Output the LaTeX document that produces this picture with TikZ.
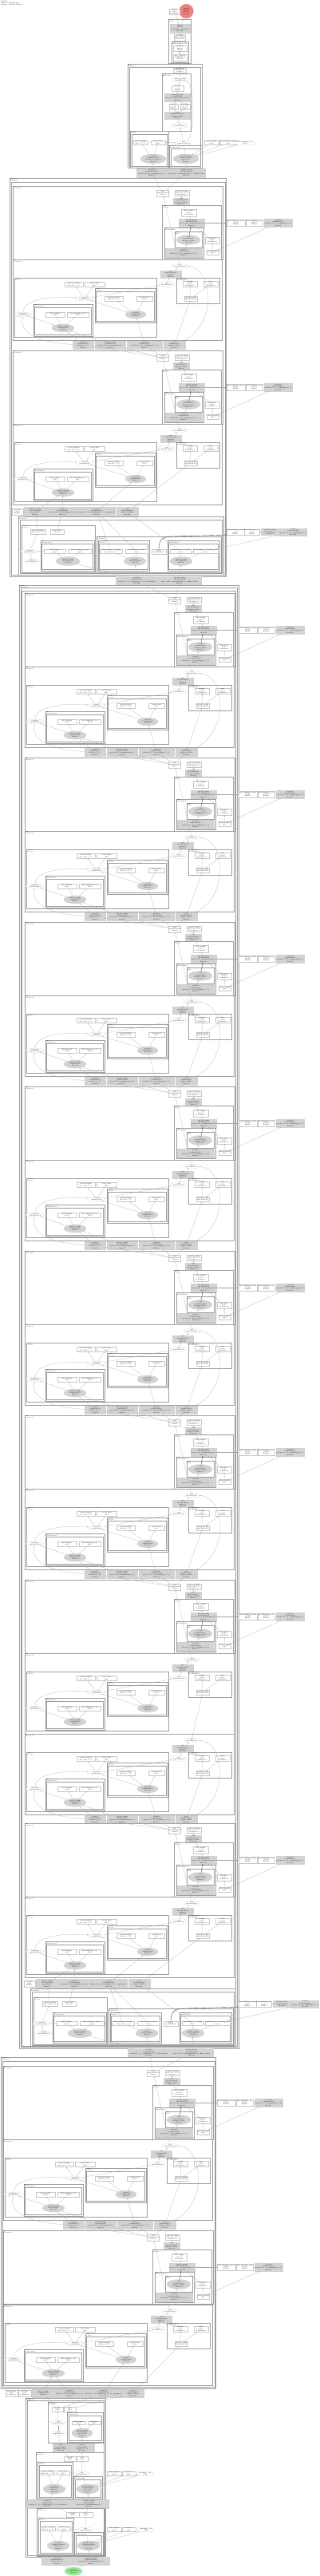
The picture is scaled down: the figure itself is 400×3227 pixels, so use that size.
\documentclass[tikz,border=0pt]{standalone}
\usepackage{tikz}
\usetikzlibrary{positioning, arrows.meta, shapes.geometric}

\definecolor{opgray}{HTML}{D3D3D3}
\definecolor{outred}{HTML}{F08080}
\definecolor{ingreen}{HTML}{90EE90}

% conv half of a bottleneck block (name, right edge, top)
\newcommand{\convunit}[3]{%
\begin{scope}[shift={({#2},{#3})}]
\draw[clus] (-263,0) rectangle (0,92);
\node[clab] (#1-lab) at (-263,0) {#1\\ Bottleneck};
\node[wbox, minimum width=15, minimum height=8] (#1-in) at (-75,9) {add\\ 1x256x56x56\\ Tensor};
\node[wbox, minimum width=18, minimum height=7] (#1-w) at (-51,9) {conv3.weight\\ (256, 64, 1, 1)\\ Parameter};
\node[gbox, minimum width=20, minimum height=9] (#1-op) at (-52,19.5) {relu\\ 1x256x56x56\\ inplace=True\\ float32};
\draw[clus] (-76,24) rectangle (-2,92);
\node[clab] (#1-lab2) at (-76,24) {conv3\\ Conv2d};
\node[wbox, minimum width=19, minimum height=9] (#1-p) at (-42.5,33.5) {bn3.weight\\ (256,)\\ Parameter};
\node[gbox, minimum width=32, minimum height=10] (#1-bn) at (-39,46) {batch\_norm\\ 1x256x56x56\\ eps=1e-05, momentum=0.1\\ float32};
\draw[clus] (-73,52) rectangle (-24,90);
\node[clab] (#1-lab3) at (-73,52) {bn2\\ BatchNorm2d};
\draw[clus] (-60,57) rectangle (-26,77);
\node[clab] (#1-lab4) at (-60,57) {relu\\ ReLU};
\node[gov, minimum width=30, minimum height=12] (#1-fn) at (-43,67.5) {relu\\ 1x64x56x56\\ inplace=True\\ float32};
\node[gbox, minimum width=46, minimum height=11] (#1-cv) at (-49,83.5) {conv2d\\ 1x64x56x56\\ stride=(1, 1), padding=(1, 1)\\ float32};
\node[wbox, minimum width=18, minimum height=8] (#1-a) at (-13,68) {bn2.bias\\ (64,)\\ Parameter};
\node[wbox, minimum width=15, minimum height=6] (#1-b) at (-12.5,83) {conv2.weight\\ (64,)};
\node[wbox, minimum width=23, minimum height=8] (#1-x1) at (16.5,46) {bn3.running\_mean\\ (256,)\\ Buffer};
\node[wbox, minimum width=21, minimum height=8] (#1-x2) at (39.5,46) {bn3.running\_var\\ (256,)\\ Buffer};
\node[gbox, minimum width=35, minimum height=10] (#1-x3) at (69.5,46) {conv2d\\ 1x64x56x56\\ stride=(1, 1), padding=(0, 0)\\ float32};
\draw[connect] (#1-cv) -- (#1-fn);
\draw[connect, draw=black!75, line width=0.35pt] (#1-fn) -- (#1-bn);
\draw[connect] (#1-bn) -- (#1-p);
\draw[connect] (#1-p) -- (#1-op);
\draw[connect] (#1-op) -- (#1-w);
\draw[connect] (#1-a) -- (#1-bn);
\draw[connect] (#1-b) -- (#1-a);
\draw[connect] (#1-x1) -- (#1-bn);
\draw[connect] (#1-x3) -- (#1-b);
\end{scope}}

% merge half of a bottleneck block (name, right edge, top)
\newcommand{\mergeunit}[3]{%
\begin{scope}[shift={({#2},{#3})}]
\draw[clus] (-263,0) rectangle (-1,101);
\node[clab] (#1-lab) at (-263,0) {#1\\ Bottleneck};
\node[wov, minimum width=20, minimum height=6] (#1-o1) at (-54,8) {add\\ 1x256x56x56};
\node[gbox, minimum width=26, minimum height=9] (#1-op) at (-65,18.5) {add\\ 1x256x56x56\\ alpha=1\\ float32};
\node[wov, minimum width=19, minimum height=7] (#1-o2) at (-70,31) {relu\\ 1x256x56x56};
\draw[clus] (-58,23) rectangle (-4,55);
\node[clab] (#1-lab2) at (-58,23) {downsample.1\\ BatchNorm2d};
\node[wbox, minimum width=18, minimum height=7] (#1-r1) at (-41,30.5) {weight\\ (256,)\\ Parameter};
\node[wbox, minimum width=18, minimum height=7] (#1-r2) at (-15,30.5) {bias\\ (256,)\\ Parameter};
\node[wbox, minimum width=16, minimum height=6] (#1-r3) at (-40,49) {batch\_norm\\ 1x256x56x56};
\draw[clus] (-261,23) rectangle (-83,97);
\node[clab] (#1-lab3) at (-261,23) {conv1\\ Conv2d};
\node[wbox, minimum width=23, minimum height=6] (#1-l1) at (-186.5,31.5) {conv1.weight\\ (64, 256, 1, 1)};
\node[wbox, minimum width=25, minimum height=6] (#1-l2) at (-160.5,31.5) {conv1.bias\\ (64,)};
\node[wov, minimum width=22, minimum height=6] (#1-lo) at (-173,49) {conv2d\\ 1x64x56x56};
\node[wov, minimum width=22, minimum height=6] (#1-lf) at (-250,69) {identity\\ 1x256x56x56};
\draw[clus] (-237,56) rectangle (-163,96);
\draw[clus] (-235.5,60) rectangle (-164.5,94.5);
\node[clab] (#1-lab4) at (-237,56) {bn1\\ BatchNorm2d};
\node[wbox, minimum width=24, minimum height=6] (#1-a1) at (-210,69) {bn1.weight\\ (64,)};
\node[wbox, minimum width=27, minimum height=6] (#1-a2) at (-181.5,69) {bn1.running\_var\\ (64,)};
\node[gov, minimum width=28, minimum height=10] (#1-ag) at (-200,86) {batch\_norm\\ 1x64x56x56\\ float32};
\draw[clus] (-160,36) rectangle (-84,79);
\draw[clus] (-158.5,40) rectangle (-85.5,77.5);
\node[clab] (#1-lab5) at (-160,36) {conv2\\ Conv2d};
\node[wbox, minimum width=23, minimum height=6] (#1-b1) at (-136.5,49) {conv2.weight\\ (64, 64, 3, 3)};
\node[wbox, minimum width=20, minimum height=6] (#1-b2) at (-98,49) {conv2.bias\\ (64,)};
\node[gov, minimum width=26, minimum height=10] (#1-bg) at (-109,69) {conv2d\\ 1x64x56x56\\ float32};
\draw[connect] (#1-op) -- (#1-o1);
\draw[connect] (#1-o2) -- (#1-op);
\draw[connect] (#1-r1) -- (#1-op);
\draw[connect] (#1-r3) -- (#1-r1);
\draw[connect] (#1-r3) -- (#1-r2);
\draw[connect] (#1-lo) -- (#1-l1);
\draw[connect] (#1-lo) -- (#1-l2);
\draw[connect] (#1-lo) -- (#1-o2);
\draw[connect] (#1-ag) -- (#1-a1);
\draw[connect] (#1-ag) -- (#1-a2);
\draw[connect] (#1-bg) -- (#1-b1);
\draw[connect] (#1-bg) -- (#1-b2);
\draw[connect] (#1-bg) -- (#1-lo);
\draw[connect] (#1-ag) -- (#1-lf);
\draw[connect] (#1-lf) .. controls (-250,50) and (-215,45) .. (#1-lo);
\end{scope}}

% row of ops under a merge half (name, merge name, right edge, top)
\newcommand{\rowunit}[4]{%
\begin{scope}[shift={({#3},{#4})}]
\node[gbox, minimum width=26, minimum height=10] (#1-s1) at (-175,5) {conv2d\\ 1x64x56x56\\ stride=(1, 1)\\ float32};
\node[gbox, minimum width=38, minimum height=10] (#1-s2) at (-141,5) {batch\_norm\\ 1x64x56x56\\ eps=1e-05, momentum=0.1\\ float32};
\node[gbox, minimum width=44, minimum height=10] (#1-s3) at (-98,5) {conv2d\\ 1x64x56x56\\ stride=(1, 1), padding=(1, 1)\\ float32};
\node[gbox, minimum width=27, minimum height=10] (#1-s4) at (-60.5,5) {relu\\ 1x64x56x56\\ inplace=True\\ float32};
\draw[connect] (#1-s1) -- (#2-ag);
\draw[connect] (#1-s1) .. controls (-240,2) and (-255,-15) .. (#2-lf);
\draw[connect] (#1-s2) -- (#2-ag);
\draw[connect] (#1-s3) -- (#2-bg);
\draw[connect] (#1-s4) -- (#2-r3);
\draw[connect] (#1-s4) .. controls (-6,-20) and (-12,-92) .. (#2-o1);
\end{scope}}

% last part of a stage with the downsample path (name, right edge, top)
\newcommand{\downunit}[3]{%
\begin{scope}[shift={({#2},{#3})}]
\node[wbox, minimum width=14, minimum height=8] (#1-q0) at (-257,-6) {fc.bias\\ (64,)\\ Buffer};
\node[gbox, minimum width=28, minimum height=12] (#1-q1) at (-235,-6) {batch\_norm\\ 1x512x28x28\\ eps=1e-05\\ float32};
\node[gbox, minimum width=38, minimum height=12] (#1-q2) at (-201,-6) {conv2d\\ 1x512x28x28\\ stride=(2, 2), padding=(0, 0)\\ float32};
\node[gbox, minimum width=46, minimum height=12] (#1-q3) at (-158,-6) {conv2d\\ 1x128x28x28\\ stride=(1, 1), padding=(1, 1), groups=1\\ float32};
\node[gbox, minimum width=27, minimum height=12] (#1-q4) at (-119.5,-6) {relu\\ 1x128x28x28\\ inplace=True\\ float32};
\draw[clus] (-256,0) rectangle (1,73);
\draw[clus] (-254.3,4.5) rectangle (-0.7,71.5);
\node[clab] (#1-lab) at (-256,0) {#1\\ Bottleneck};
\draw[clus] (-252,11) rectangle (-160,70);
\node[clab] (#1-lab2) at (-252,11) {conv1\\ Conv2d};
\node[wbox, minimum width=19, minimum height=6] (#1-c1) at (-231.5,19) {conv1.weight\\ (128, 256, 1, 1)};
\node[wbox, minimum width=17, minimum height=6] (#1-c2) at (-207.5,19) {conv1.bias\\ (128,)};
\node[wov, minimum width=18, minimum height=6] (#1-c3) at (-242,44) {conv2d\\ 1x128x56x56};
\node[wov, minimum width=18, minimum height=5] (#1-c4) at (-239,56) {input\\ 1x256x56x56};
\draw[clus] (-228,30) rectangle (-161,68);
\draw[clus] (-226.5,34) rectangle (-162.5,66.5);
\node[clab] (#1-lab3) at (-228,30) {bn1\\ BatchNorm2d};
\node[wbox, minimum width=27, minimum height=5] (#1-c5) at (-210.5,43.5) {bn1.weight\\ (128,)};
\node[wbox, minimum width=30, minimum height=5] (#1-c6) at (-179,43.5) {bn1.running\_mean\\ (128,)};
\node[gov, minimum width=30, minimum height=11] (#1-cg) at (-194,56) {batch\_norm\\ 1x128x56x56\\ float32};
\draw[clus] (-158,25) rectangle (-2,70);
\node[clab] (#1-lab4) at (-158,25) {downsample\\ Sequential};
\draw[clus] (-156,30) rectangle (-92,68);
\draw[clus] (-154.5,34) rectangle (-93.5,66.5);
\node[clab] (#1-lab5) at (-156,30) {downsample.0\\ Conv2d};
\node[wbox, minimum width=28, minimum height=5] (#1-d1) at (-140,43.5) {downsample.0.weight\\ (512, 256, 1, 1)};
\node[wbox, minimum width=28, minimum height=5] (#1-d2) at (-108,43.5) {downsample.0.bias\\ (512,)};
\node[gov, minimum width=28, minimum height=11] (#1-dg) at (-110,56) {conv2d\\ 1x512x28x28\\ float32};
\node[wbox, minimum width=18, minimum height=6] (#1-d0) at (-80,44) {input\\ 1x256x56x56};
\draw[clus] (-69,30) rectangle (-4,68);
\draw[clus] (-67.5,34) rectangle (-5.5,66.5);
\node[clab] (#1-lab6) at (-69,30) {downsample.1\\ BatchNorm2d};
\node[wbox, minimum width=27, minimum height=5] (#1-e1) at (-52.5,43.5) {downsample.1.weight\\ (512,)};
\node[wbox, minimum width=29, minimum height=5] (#1-e2) at (-21.5,43.5) {downsample.1.running\_var\\ (512,)};
\node[gov, minimum width=28, minimum height=11] (#1-eg) at (-52,56) {batch\_norm\\ 1x512x28x28\\ float32};
\node[wbox, minimum width=20, minimum height=7] (#1-x1) at (16,19.5) {bn2.running\_mean\\ (128,)\\ Buffer};
\node[wbox, minimum width=19, minimum height=7] (#1-x2) at (36.5,19.5) {bn2.running\_var\\ (128,)\\ Buffer};
\node[gbox, minimum width=23, minimum height=8] (#1-x3) at (59.5,19.5) {batch\_norm\\ 1x128x28x28\\ float32};
\node[gbox, minimum width=31, minimum height=8] (#1-x4) at (88.5,19.5) {conv2d\\ 1x128x28x28\\ stride=(2, 2), padding=(1, 1)\\ float32};
\node[gbox, minimum width=53, minimum height=11] (#1-z1) at (-107.5,80.5) {conv2d\\ 1x128x56x56\\ stride=(1, 1), padding=(0, 0), bias=False\\ float32};
\node[gbox, minimum width=54, minimum height=11] (#1-z2) at (-54,80.5) {batch\_norm\\ 1x128x56x56\\ eps=1e-05, momentum=0.1, affine=True\\ float32};
\draw[connect] (#1-cg) -- (#1-c5);
\draw[connect] (#1-cg) -- (#1-c6);
\draw[connect] (#1-dg) -- (#1-d1);
\draw[connect] (#1-dg) -- (#1-d2);
\draw[connect] (#1-eg) -- (#1-e1);
\draw[connect] (#1-eg) -- (#1-e2);
\draw[connect] (#1-c4) -- (#1-c3);
\draw[connect] (#1-c3) -- (#1-c1);
\draw[connect] (#1-c5) -- (#1-c3);
\draw[connect] (#1-c1) -- (#1-q1);
\draw[connect] (#1-c2) -- (#1-q2);
\draw[connect] (#1-d1) -- (#1-q3);
\draw[connect] (#1-d2) -- (#1-q3);
\draw[connect] (#1-e1) -- (#1-q4);
\draw[connect, draw=black!75, line width=0.4pt] (#1-d0) .. controls (-80,28) and (-74,25) .. (-62,25) -- (#1-x1.south west);
\draw[connect] (#1-x4) -- (#1-e2);
\draw[connect] (#1-x3) -- (#1-x2);
\draw[connect] (#1-z1) -- (#1-cg);
\draw[connect] (#1-z1) -- (#1-dg);
\draw[connect] (#1-z2) -- (#1-eg);
\end{scope}}

\begin{document}
\begin{tikzpicture}[x=1pt,y=-1pt]
\tikzstyle{every node}=[font=\fontsize{1.9}{2.3}\selectfont]
\tikzstyle{clus}=[draw=black!38, line width=0.3pt]
\tikzstyle{clab}=[anchor=north west, inner sep=0.4pt, align=left, font=\fontsize{1.6}{1.9}\selectfont]
\tikzstyle{wbox}=[rectangle, draw=black!22, line width=0.15pt, fill=white, inner sep=0.2pt, align=center]
\tikzstyle{gbox}=[rectangle, draw=black!18, line width=0.15pt, fill=opgray, inner sep=0.2pt, align=center]
\tikzstyle{wov}=[ellipse, draw=black!22, line width=0.15pt, fill=white, inner sep=0pt, align=center]
\tikzstyle{gov}=[ellipse, draw=black!22, line width=0.15pt, fill=opgray, inner sep=0pt, align=center]
\tikzstyle{connect}=[-{Stealth[length=1.4pt,width=1.1pt]}, line width=0.18pt, draw=black!35]
\fill[white] (0,0) rectangle (400,3227);
\useasboundingbox (0,0) rectangle (400,3227);

% 1. Head
%%%%%%%%%%
\node[anchor=north west, inner sep=0.4pt, align=left] (title) at (0.5,0.3) {ResNet\\ input: 1x3x224x224\\ output: 1x1000, float32};
\node[circle, minimum size=18, draw=black!25, line width=0.2pt, fill=outred, inner sep=0pt, align=center] (out) at (233.5,14) {output\\ 1x1000\\ Tensor\\ float32};
\node[wbox, minimum width=13, minimum height=6] (outp) at (218.5,14.5) {fc.bias\\ (1000,)\\ Parameter};

\draw[clus] (211,24) rectangle (239,79);
\node[clab] (fc-lab) at (211,24) {fc\\ Linear};
\node[gbox, minimum width=25, minimum height=11] (fcop) at (225.5,35.5) {linear\\ 1x1000\\ in=2048, out=1000\\ float32};
\node[wbox, minimum width=12, minimum height=8] (fcw) at (225,47) {fc.weight\\ (1000, 2048)\\ Parameter};
\draw[clus] (215,52) rectangle (236,78);
\node[clab] (pool-lab) at (215,52) {avgpool\\ AdaptiveAvgPool2d};
\node[wbox, minimum width=17, minimum height=7] (flat) at (225.5,60.5) {flatten\\ 1x2048\\ Tensor};
\node[wbox, minimum width=17, minimum height=8] (pool) at (225.5,72) {avg\_pool2d\\ 1x2048x1x1\\ Tensor};

% 2. Stem
%%%%%%%%%%
\draw[clus] (160,80) rectangle (253,210);
\draw[clus] (161.7,84) rectangle (251.3,208.5);
\node[clab] (stem-lab) at (160,80) {stem\\ Sequential};
\node[wbox, minimum width=16, minimum height=6] (bt) at (225,88) {maxpool\\ 1x64x56x56\\ Tensor};
\draw[clus] (203,92) rectangle (239,164);
\node[clab] (bsub-lab) at (203,92) {maxpool\\ MaxPool2d};
\node[wov, minimum width=22, minimum height=6] (bo1) at (226,100) {max\_pool2d\\ 1x64x56x56};
\node[wbox, minimum width=15, minimum height=7] (bp) at (222.5,110.5) {kernel\\ (3, 3)\\ Buffer};
\node[gbox, minimum width=32, minimum height=10] (bg1) at (222,122) {max\_pool2d\\ 1x64x56x56\\ kernel=3, stride=2, pad=1\\ float32};
\node[wbox, minimum width=11, minimum height=7] (bp2) at (217.5,133.5) {stride\\ (2, 2)\\ Buffer};
\node[wbox, minimum width=12, minimum height=7] (bp3) at (232,133.5) {padding\\ (1, 1)\\ Buffer};
\node[gbox, minimum width=32, minimum height=9] (bg2) at (222,144.5) {relu\\ 1x64x112x112\\ inplace=True\\ float32};
\node[wov, minimum width=22, minimum height=7] (bo2) at (225,157) {relu\\ 1x64x112x112};
\node[wov, minimum width=20, minimum height=6] (bo3) at (230,179) {bn1\\ 1x64x112x112};
\draw[clus] (163,164) rectangle (211,210);
\draw[clus] (164.7,168) rectangle (209.3,208.5);
\node[clab] (bl-lab) at (163,164) {conv1\\ Conv2d};
\node[wbox, minimum width=18, minimum height=5] (bl1) at (176,178.5) {conv1.weight\\ (64, 3, 7, 7)};
\node[wbox, minimum width=18, minimum height=5] (bl2) at (198,178.5) {conv1.bias\\ (64,)};
\node[gov, minimum width=32, minimum height=12] (blg) at (192,199) {conv2d\\ 1x64x112x112\\ stride=2, pad=3\\ float32};
\draw[clus] (212,182) rectangle (253,210);
\draw[clus] (213.7,186) rectangle (251.3,208.5);
\node[clab] (br-lab) at (212,182) {bn1\\ BatchNorm2d};
\node[gov, minimum width=32, minimum height=12] (brg) at (233,199) {batch\_norm\\ 1x64x112x112\\ eps=1e-05\\ float32};
\node[wbox, minimum width=18, minimum height=5] (bx1) at (265,178.5) {bn1.weight\\ (64,)};
\node[wbox, minimum width=20, minimum height=5] (bx2) at (286,178.5) {bn1.running\_mean\\ (64,)};
\node[wov, minimum width=20, minimum height=5] (bx3) at (307,179) {bn1.running\_var\\ (64,)};
\node[gbox, minimum width=38, minimum height=11] (brow1) at (190,216.5) {conv2d\\ 1x64x112x112\\ stride=(2, 2), padding=(3, 3)\\ float32};
\node[gbox, minimum width=47, minimum height=11] (brow2) at (233.5,216.5) {batch\_norm\\ 1x64x112x112\\ eps=1e-05, momentum=0.1, affine=True\\ float32};

% 3. Stages
%%%%%%%%%%%
\draw[clus] (12,223) rectangle (283.5,722);
\draw[clus] (13.7,228) rectangle (281.8,720.5);
\node[clab] (c-lab) at (12,223) {layer1\\ Sequential};
\convunit{ca1}{279}{233}
\mergeunit{cb1}{279}{325}
\rowunit{cr1}{cb1}{279}{427}
\convunit{ca2}{279}{439}
\mergeunit{cb2}{279}{531}
\downunit{cc}{279}{647}

\draw[clus] (24,733) rectangle (299,2566);
\draw[clus] (25.7,736.5) rectangle (297.3,2564.5);
\draw[clus] (27.4,740) rectangle (295.6,2563);
\node[clab] (d-lab) at (24,733) {layer2\\ Sequential};
\foreach \k/\y in {1/743,2/949,3/1155,4/1361,5/1567,6/1773} {
  \convunit{da\k}{294}{\y}
  \mergeunit{db\k}{294}{\y+92}
  \rowunit{dr\k}{db\k}{294}{\y+194}
}
\convunit{da7}{294}{1979}
\mergeunit{db7}{294}{2071}
\mergeunit{dx}{294}{2172}
\rowunit{dr7}{dx}{294}{2274}
\convunit{da8}{294}{2284}
\mergeunit{db8}{294}{2376}
\downunit{dd}{294}{2491}

\draw[clus] (1,2577) rectangle (270.5,2992);
\draw[clus] (2.7,2582.5) rectangle (268.8,2990.5);
\node[clab] (e-lab) at (1,2577) {layer3\\ Sequential};
\convunit{ea1}{267}{2588}
\mergeunit{eb1}{267}{2680}
\rowunit{er1}{eb1}{267}{2782}
\convunit{ea2}{267}{2794}
\mergeunit{eb2}{267}{2887}

\node[wbox, minimum width=15, minimum height=8] (erw1) at (14.5,2998) {bn.weight\\ (64,)\\ Parameter};
\node[wbox, minimum width=16, minimum height=8] (erw2) at (31,2998) {bn.bias\\ (64,)\\ Parameter};
\node[gbox, minimum width=28, minimum height=10] (erg1) at (54,2998) {batch\_norm\\ 1x64x56x56\\ float32};
\node[gbox, minimum width=38, minimum height=10] (erg2) at (87,2998) {conv2d\\ 1x64x56x56\\ stride=(1, 1), padding=(0, 0)\\ float32};
\node[gbox, minimum width=45, minimum height=10] (erg3) at (129.5,2998) {conv2d\\ 1x64x56x56\\ stride=(1, 1), padding=(1, 1), groups=1\\ float32};
\node[gbox, minimum width=27, minimum height=10] (erg4) at (166.5,2998) {relu\\ 1x64x56x56\\ inplace=True\\ float32};

% 4. Input side
%%%%%%%%%%%%%%%
\draw[clus] (32,3004) rectangle (132,3203);
\draw[clus] (33.7,3007.5) rectangle (130.3,3201.5);
\node[clab] (f-lab) at (32,3004) {layer4\\ Sequential};
\draw[clus] (60,3009) rectangle (130,3060);
\node[clab] (f1-lab) at (60,3009) {layer4.2\\ Bottleneck};
\node[wbox, minimum width=14, minimum height=6] (f1p1) at (72,3018) {weight\\ (64,)};
\node[wbox, minimum width=15, minimum height=6] (f1p2) at (87.5,3018) {bias\\ (64,)};
\node[wov, minimum width=20, minimum height=6] (f1o1) at (73,3035) {relu\\ 1x64x56x56};
\node[wov, minimum width=20, minimum height=6] (f1o2) at (73,3048) {add\\ 1x64x56x56};
\draw[clus] (84,3022) rectangle (129,3059);
\draw[clus] (85.7,3026) rectangle (127.5,3057.5);
\node[clab] (f1s-lab) at (84,3022) {bn2\\ BatchNorm2d};
\node[wbox, minimum width=17, minimum height=4.5] (f1a) at (98.5,3035) {bn2.weight\\ (64,)};
\node[wbox, minimum width=16, minimum height=4.5] (f1b) at (118,3035) {bn2.bias\\ (64,)};
\node[gov, minimum width=26, minimum height=12] (f1g) at (103,3048) {batch\_norm\\ 1x64x56x56\\ eps=1e-05\\ float32};
\node[gbox, minimum width=20, minimum height=11] (fr1) at (76,3066.5) {relu\\ 1x64x56x56\\ inplace=True\\ float32};
\node[gbox, minimum width=31, minimum height=11] (fr2) at (102.5,3066.5) {conv2d\\ 1x64x56x56\\ stride=(1, 1)\\ float32};

\draw[clus] (45,3072) rectangle (130,3131);
\node[clab] (f2-lab) at (45,3072) {layer4.1\\ Bottleneck};
\node[wbox, minimum width=15, minimum height=6] (f2p1) at (87.5,3080) {weight\\ (64,)};
\node[wbox, minimum width=14, minimum height=6] (f2p2) at (103,3080) {bias\\ (64,)};
\node[wov, minimum width=20, minimum height=6] (f2o) at (102,3099) {relu\\ 1x64x56x56};
\draw[clus] (47,3084) rectangle (91,3130);
\draw[clus] (48.7,3088) rectangle (89.3,3128.5);
\node[clab] (f2l-lab) at (47,3084) {conv1\\ Conv2d};
\node[wbox, minimum width=17, minimum height=5] (f2a) at (59.5,3097.5) {conv1.weight\\ (64, 64, 1, 1)};
\node[wbox, minimum width=16, minimum height=5] (f2b) at (79,3097.5) {conv1.bias\\ (64,)};
\node[gov, minimum width=28, minimum height=12] (f2lg) at (68,3118) {conv2d\\ 1x64x56x56\\ stride=1\\ float32};
\draw[clus] (92,3102) rectangle (128,3130);
\draw[clus] (93.7,3106) rectangle (126.3,3128.5);
\node[clab] (f2r-lab) at (92,3102) {bn1\\ BatchNorm2d};
\node[gov, minimum width=28, minimum height=12] (f2rg) at (110,3118) {batch\_norm\\ 1x64x56x56\\ eps=1e-05\\ float32};
\node[wbox, minimum width=18, minimum height=5] (f2x1) at (143,3098.5) {bn1.weight\\ (64,)};
\node[wbox, minimum width=17, minimum height=5] (f2x2) at (161.5,3098.5) {bn1.bias\\ (64,)};
\node[wov, minimum width=20, minimum height=5] (f2x3) at (182,3099) {running\_var\\ (64,)};
\node[gbox, minimum width=53, minimum height=11] (fr3) at (59.5,3136.5) {conv2d\\ 1x64x56x56\\ stride=(1, 1), padding=(0, 0), bias=False\\ float32};
\node[gbox, minimum width=49, minimum height=11] (fr4) at (111.5,3136.5) {batch\_norm\\ 1x64x56x56\\ eps=1e-05, momentum=0.1\\ float32};

\draw[clus] (46,3142) rectangle (131,3202);
\node[clab] (f3-lab) at (46,3142) {layer4.0\\ Bottleneck};
\node[wbox, minimum width=16, minimum height=6] (f3p1) at (91,3150) {weight\\ (64,)};
\node[wbox, minimum width=17, minimum height=6] (f3p2) at (107.5,3150) {bias\\ (64,)};
\node[wov, minimum width=20, minimum height=6] (f3o) at (107,3169) {relu\\ 1x64x56x56};
\draw[clus] (48,3154) rectangle (92,3200);
\draw[clus] (49.7,3158) rectangle (90.3,3198.5);
\node[clab] (f3l-lab) at (48,3154) {conv1\\ Conv2d};
\node[wbox, minimum width=17, minimum height=5] (f3a) at (60.5,3167.5) {conv1.weight\\ (64, 3, 1, 1)};
\node[wbox, minimum width=16, minimum height=5] (f3b) at (80,3167.5) {conv1.bias\\ (64,)};
\node[gov, minimum width=28, minimum height=12] (f3lg) at (73,3189) {conv2d\\ 1x64x224x224\\ stride=1\\ float32};
\draw[clus] (93,3172) rectangle (129,3200);
\draw[clus] (94.7,3176) rectangle (127.3,3198.5);
\node[clab] (f3r-lab) at (93,3172) {bn1\\ BatchNorm2d};
\node[gov, minimum width=28, minimum height=12] (f3rg) at (111,3189) {batch\_norm\\ 1x64x224x224\\ eps=1e-05\\ float32};
\node[wbox, minimum width=18, minimum height=5] (f3x1) at (143,3168.5) {bn1.weight\\ (64,)};
\node[wbox, minimum width=17, minimum height=5] (f3x2) at (161.5,3168.5) {bn1.bias\\ (64,)};
\node[wov, minimum width=20, minimum height=5] (f3x3) at (183,3169) {running\_var\\ (64,)};
\node[gbox, minimum width=38, minimum height=10] (fr5) at (71,3208) {conv2d\\ 1x64x224x224\\ stride=(1, 1)\\ float32};
\node[gbox, minimum width=46, minimum height=10] (fr6) at (114,3208) {batch\_norm\\ 1x64x224x224\\ eps=1e-05, momentum=0.1\\ float32};
\node[ellipse, minimum width=22, minimum height=10, draw=black!25, line width=0.2pt, fill=ingreen, inner sep=0pt, align=center] (inp) at (92,3221) {input\\ 1x3x224x224\\ float32};

% 5. Arrows
%%%%%%%%%%%
\path (fcop) edge [connect] (out)
      (outp) edge [connect] (fcop)
      (fcw)  edge [connect] (fcop)
      (flat) edge [connect] (fcw)
      (pool) edge [connect] (flat)
      (bt)   edge [connect] (pool)
      (bo1)  edge [connect] (bt)
      (bp)   edge [connect] (bo1)
      (bg1)  edge [connect] (bp)
      (bp2)  edge [connect] (bg1)
      (bp3)  edge [connect] (bg1)
      (bg2)  edge [connect] (bp2)
      (bg2)  edge [connect] (bp3)
      (bo2)  edge [connect] (bg2)
      (bl2)  edge [connect] (bo3)
      (brg)  edge [connect] (bo3)
      (blg)  edge [connect] (bl1)
      (blg)  edge [connect] (bl2)
      (bx1)  edge [connect] (brg)
      (bx2)  edge [connect] (brg)
      (bx3)  edge [connect] (brg)
      (brow1) edge [connect] (blg)
      (brow2) edge [connect] (brg);
\draw[connect] (bo3) .. controls (245,170) and (244,105) .. (bo1);
\draw[connect] (bo3) -- (bo2);
\foreach \s in {brow1,brow2} {\draw[connect] (ca1-in) -- (\s);}
\foreach \a/\b in {ca1/cb1,ca2/cb2,ea1/eb1,ea2/eb2,da1/db1,da2/db2,da3/db3,da4/db4,da5/db5,da6/db6,da7/db7,da8/db8} {
  \draw[connect] (\b-o1) -- (\a-in);
}
\draw[connect] (dx-o1) -- (db7-r3);
\foreach \a/\r in {ca2/cr1,ea2/er1,da2/dr1,da3/dr2,da4/dr3,da5/dr4,da6/dr5,da7/dr6,da8/dr7} {
  \foreach \s in {s1,s2,s3,s4} {\draw[connect] (\a-in) -- (\r-\s);}
}
\foreach \u/\b in {cc/cb2,dd/db8} {
  \draw[connect] (\u-q1) -- (\b-ag);
  \draw[connect] (\u-q2) -- (\b-ag);
  \draw[connect] (\u-q3) -- (\b-bg);
  \draw[connect] (\u-q4) -- (\b-r3);
}
\foreach \a/\u in {da1/cc,ea1/dd} {
  \draw[connect] (\a-in) -- (\u-z1);
  \draw[connect] (\a-in) -- (\u-z2);
}
\path (erg1) edge [connect] (eb2-ag)
      (erg2) edge [connect] (eb2-ag)
      (erg3) edge [connect] (eb2-bg)
      (erg4) edge [connect] (eb2-r3)
      (f1p1) edge [connect] (erg1)
      (f1p1) edge [connect] (erg3)
      (f1p2) edge [connect] (erg4)
      (f1o1) edge [connect] (f1p1)
      (f1o2) edge [connect] (f1o1)
      (f1g)  edge [connect] (f1a)
      (f1g)  edge [connect] (f1b)
      (fr1)  edge [connect] (f1o2)
      (fr2)  edge [connect] (f1g)
      (f2p1) edge [connect] (fr1)
      (f2p2) edge [connect] (fr2)
      (f2o)  edge [connect] (f2p2)
      (f2b)  edge [connect] (f2o)
      (f2lg) edge [connect] (f2a)
      (f2lg) edge [connect] (f2b)
      (f2rg) edge [connect] (f2o)
      (f2x1) edge [connect] (f2rg)
      (f2x2) edge [connect] (f2rg)
      (f2x3) edge [connect] (f2rg)
      (fr3)  edge [connect] (f2lg)
      (fr4)  edge [connect] (f2rg)
      (f3p1) edge [connect] (fr3)
      (f3p2) edge [connect] (fr4)
      (f3o)  edge [connect] (f3p2)
      (f3b)  edge [connect] (f3o)
      (f3lg) edge [connect] (f3a)
      (f3lg) edge [connect] (f3b)
      (f3rg) edge [connect] (f3o)
      (f3x1) edge [connect] (f3rg)
      (f3x2) edge [connect] (f3rg)
      (f3x3) edge [connect] (f3rg)
      (fr5)  edge [connect] (f3lg)
      (fr6)  edge [connect] (f3rg)
      (inp)  edge [connect] (fr5)
      (inp)  edge [connect] (fr6);

\end{tikzpicture}
\end{document}
